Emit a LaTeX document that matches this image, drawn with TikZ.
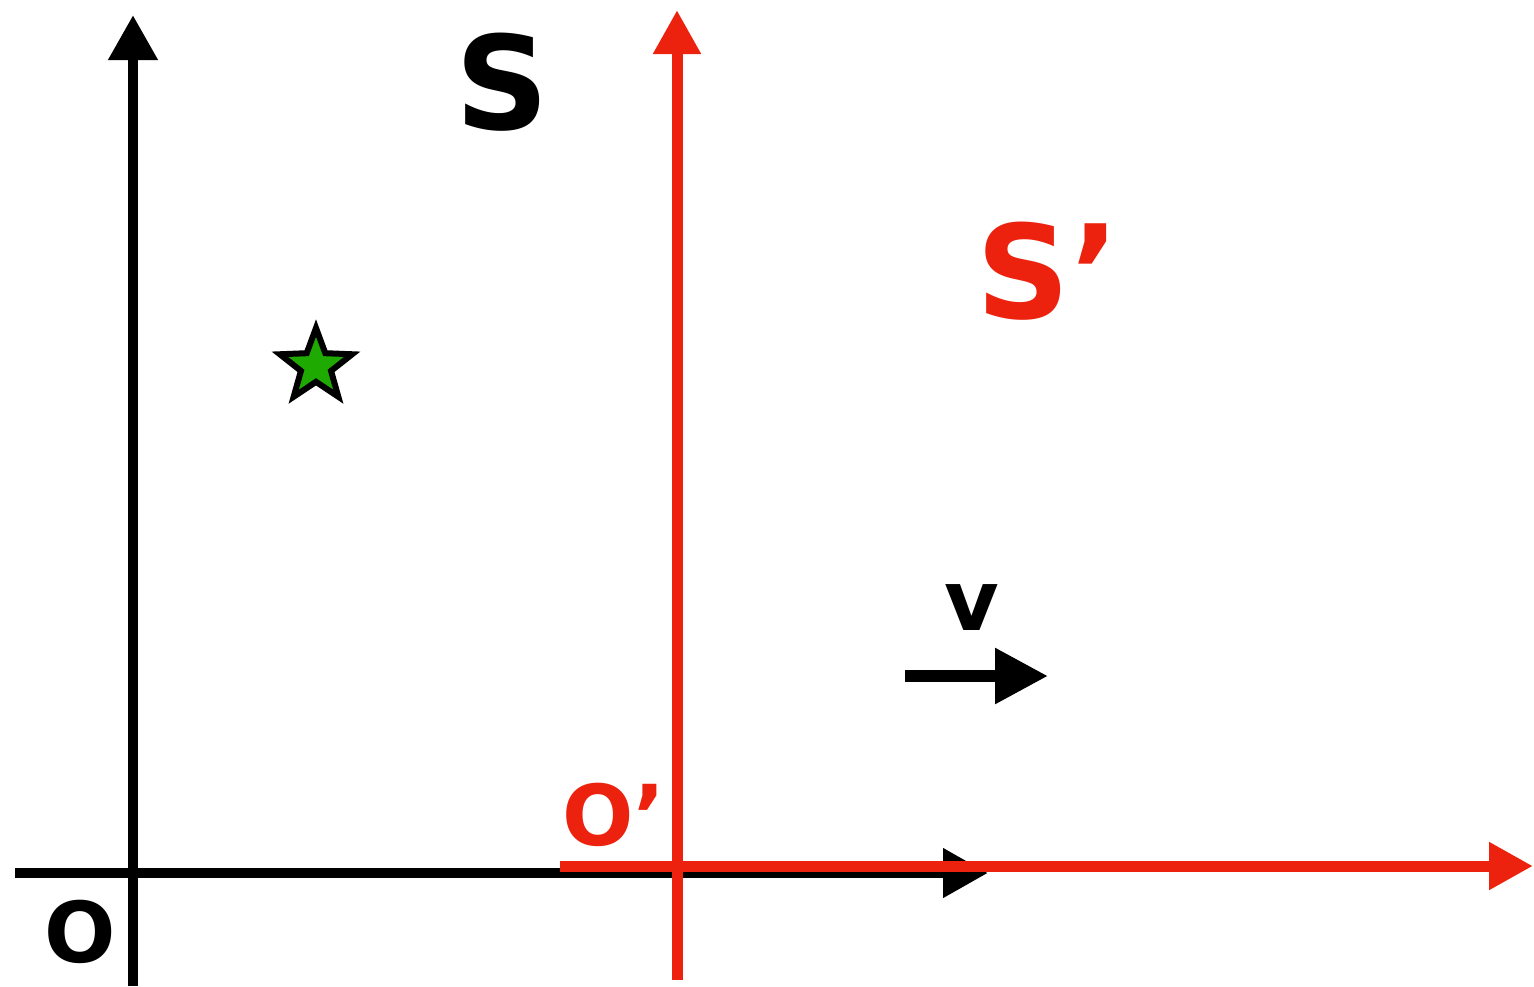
\documentclass[tikz,border=0pt]{standalone}
\usepackage{fontspec}
\setmainfont{DejaVu Sans}
\usetikzlibrary{arrows.meta,shapes.geometric}
\definecolor{axisred}{RGB}{236,34,14}
\definecolor{stargreen}{RGB}{30,170,0}
\begin{document}
\begin{tikzpicture}[
        x=0.5pt, y=-0.5pt,
        axis/.style={line width=5.3pt, -{Triangle[length=22.5pt, width=23.5pt]}},
        raxis/.style={axis, line width=5.5pt, draw=axisred, -{Triangle[length=22pt, width=22.5pt]}},
        biglabel/.style={inner sep=0pt, font=\fontsize{65}{65}\selectfont\bfseries},
        smalllabel/.style={inner sep=0pt, font=\fontsize{42}{42}\selectfont\bfseries}
    ]
\useasboundingbox (0,0) rectangle (1534,986);

% Frame S
        \coordinate (ybot) at (133,986);
        \coordinate (ytop) at (133,15);
        \coordinate (xleft) at (15,873);
        \coordinate (xright) at (988,873);
        \draw[axis] (ybot) -- (ytop);
        \draw[axis] (xleft) -- (xright);

% Frame S'
        \coordinate (rybot) at (677,980);
        \coordinate (rytop) at (677,10);
        \coordinate (rxleft) at (560,866);
        \coordinate (rxright) at (1533,866);
        \draw[raxis] (rybot) -- (rytop);
        \draw[raxis] (rxleft) -- (rxright);

% Labels
        \node[biglabel] (Slabel) at (502,82) {S};
        \node[biglabel, text=axisred, anchor=base west] (Sprime) at (976,318) {S’};
        \node[smalllabel] (Olabel) at (80,932) {O};
        \node[smalllabel, text=axisred, anchor=base west] (Oprime) at (562,845) {O’};
        \node[smalllabel] (vlabel) at (972,608) {v};

% Velocity
        \coordinate (vstart) at (905,676);
        \coordinate (vend) at (1048,676);
        \draw[line width=6pt, -{Triangle[length=26.5pt, width=26.5pt]}] (vstart) -- (vend);

% Event
        \node[star, star points=5, star point ratio=2.4, minimum size=38pt, inner sep=0pt,
              draw, line width=3pt, fill=stargreen] (event) at (316,366) {};
\end{tikzpicture}
\end{document}
